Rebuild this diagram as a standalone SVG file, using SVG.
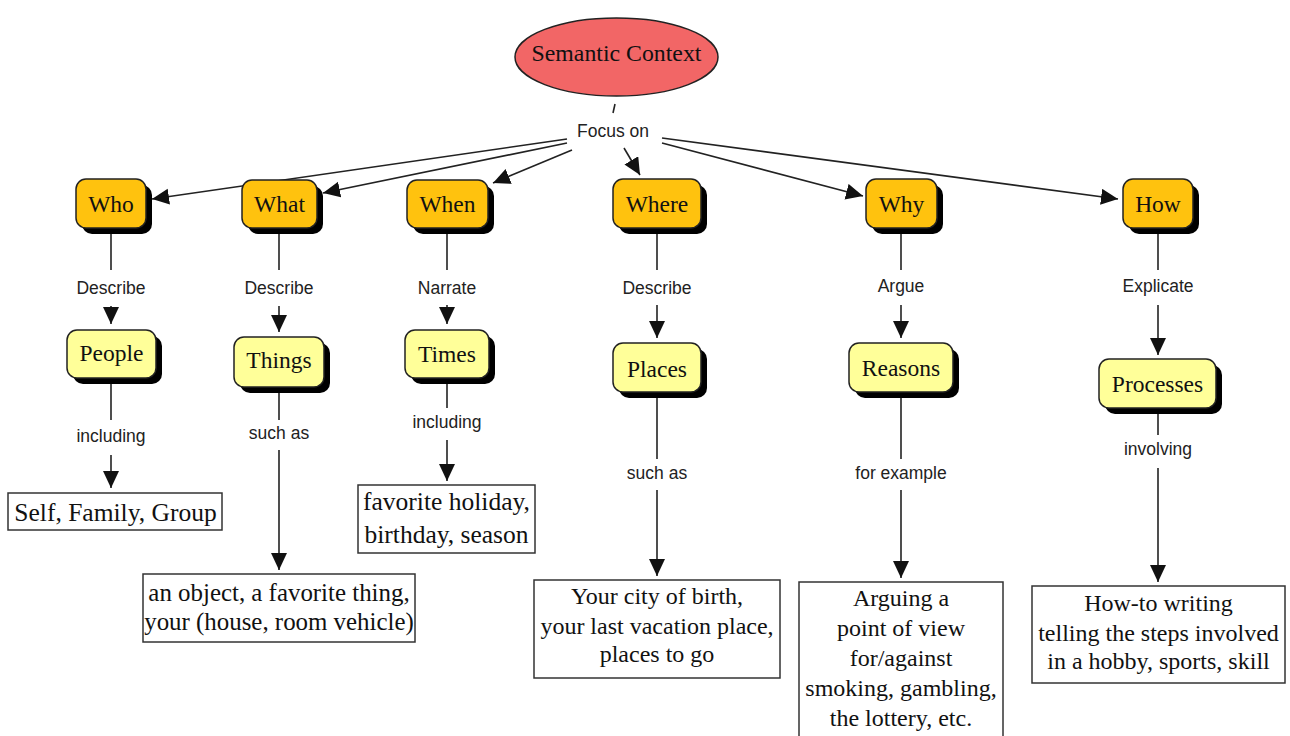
<svg xmlns="http://www.w3.org/2000/svg" width="1290" height="736" viewBox="0 0 1290 736">
  <defs>
    <marker id="arrow" markerUnits="userSpaceOnUse" markerWidth="20" markerHeight="18" refX="17" refY="8" orient="auto">
      <path d="M0,0 L17,8 L0,16 z" fill="#111"/>
    </marker>
    <style>
      .bg { fill: #ffffff; }
      .shadow { fill: #000000; }
      .topic { fill: #FFC20E; stroke: #222; stroke-width: 1.5; }
      .sub { fill: #FFFF99; stroke: #222; stroke-width: 1.5; }
      .leaf { fill: #ffffff; stroke: #333; stroke-width: 1.5; }
      .root { fill: #F26666; stroke: #222; stroke-width: 1.5; }
      .ntext { font-family: "Liberation Serif", "Times New Roman", serif; font-size: 23.5px; fill: #111; text-anchor: middle; }
      .ltext { font-family: "Liberation Serif", "Times New Roman", serif; font-size: 24px; fill: #111; text-anchor: middle; }
      .ltext.big { font-size: 25.5px; }
      .ltext.mid { font-size: 24.9px; }
      .label { font-family: "Liberation Sans", Arial, sans-serif; font-size: 17.5px; fill: #222; text-anchor: middle; }
      .conn line { stroke: #222; stroke-width: 1.6; fill: none; }
      .conn line.arr { marker-end: url(#arrow); }
    </style>
  </defs>

  <rect class="bg" x="0" y="0" width="1290" height="736"/>

  <!-- connectors and linking phrases -->
  <g id="connectors" class="conn">
    <line x1="615" y1="104" x2="613" y2="113"/>
    <text class="label" x="613" y="137">Focus on</text>
    <line class="arr" x1="567" y1="139" x2="152" y2="199"/>
    <line class="arr" x1="567" y1="143" x2="323" y2="193"/>
    <line class="arr" x1="572" y1="150" x2="493" y2="183"/>
    <line class="arr" x1="624" y1="148" x2="640" y2="175"/>
    <line class="arr" x1="662" y1="143" x2="863" y2="196"/>
    <line class="arr" x1="662" y1="138" x2="1118" y2="199"/>

    <!-- Who -> People -> list -->
    <line x1="111" y1="234" x2="111" y2="270"/>
    <text class="label" x="111" y="294">Describe</text>
    <line class="arr" x1="111" y1="306" x2="111" y2="324"/>
    <line x1="111" y1="383" x2="111" y2="420"/>
    <text class="label" x="111" y="442">including</text>
    <line class="arr" x1="111" y1="455" x2="111" y2="488"/>

    <!-- What -> Things -> list -->
    <line x1="279" y1="234" x2="279" y2="270"/>
    <text class="label" x="279" y="294">Describe</text>
    <line class="arr" x1="279" y1="306" x2="279" y2="332"/>
    <line x1="279" y1="392" x2="279" y2="420"/>
    <text class="label" x="279" y="439">such as</text>
    <line class="arr" x1="279" y1="450" x2="279" y2="570"/>

    <!-- When -> Times -> list -->
    <line x1="447" y1="234" x2="447" y2="270"/>
    <text class="label" x="447" y="294">Narrate</text>
    <line class="arr" x1="447" y1="305" x2="447" y2="324"/>
    <line x1="447" y1="383" x2="447" y2="408"/>
    <text class="label" x="447" y="428">including</text>
    <line class="arr" x1="447" y1="440" x2="447" y2="481"/>

    <!-- Where -> Places -> list -->
    <line x1="657" y1="234" x2="657" y2="270"/>
    <text class="label" x="657" y="294">Describe</text>
    <line class="arr" x1="657" y1="305" x2="657" y2="338"/>
    <line x1="657" y1="397" x2="657" y2="459"/>
    <text class="label" x="657" y="479">such as</text>
    <line class="arr" x1="657" y1="490" x2="657" y2="576"/>

    <!-- Why -> Reasons -> list -->
    <line x1="901" y1="234" x2="901" y2="270"/>
    <text class="label" x="901" y="292">Argue</text>
    <line class="arr" x1="901" y1="305" x2="901" y2="338"/>
    <line x1="901" y1="397" x2="901" y2="459"/>
    <text class="label" x="901" y="479">for example</text>
    <line class="arr" x1="901" y1="490" x2="901" y2="578"/>

    <!-- How -> Processes -> list -->
    <line x1="1158" y1="234" x2="1158" y2="270"/>
    <text class="label" x="1158" y="292">Explicate</text>
    <line class="arr" x1="1158" y1="305" x2="1158" y2="355"/>
    <line x1="1158" y1="413" x2="1158" y2="435"/>
    <text class="label" x="1158" y="455">involving</text>
    <line class="arr" x1="1158" y1="468" x2="1158" y2="582"/>
  </g>

  <!-- root concept -->
  <g id="semantic-context">
    <ellipse class="root" cx="616.5" cy="57" rx="101.5" ry="39"/>
    <text class="ntext" x="616.5" y="61" style="font-size:23.8px">Semantic Context</text>
  </g>

  <!-- question nodes -->
  <g id="who">
    <rect class="shadow" x="82" y="185" width="70" height="49" rx="10"/>
    <rect class="topic" x="76" y="179" width="70" height="49" rx="10"/>
    <text class="ntext" x="111" y="212">Who</text>
  </g>
  <g id="what">
    <rect class="shadow" x="248" y="186" width="75" height="48" rx="10"/>
    <rect class="topic" x="242" y="180" width="75" height="48" rx="10"/>
    <text class="ntext" x="279.5" y="212">What</text>
  </g>
  <g id="when">
    <rect class="shadow" x="413" y="186" width="81" height="48" rx="10"/>
    <rect class="topic" x="407" y="180" width="81" height="48" rx="10"/>
    <text class="ntext" x="447.5" y="212">When</text>
  </g>
  <g id="where">
    <rect class="shadow" x="619" y="185" width="88" height="49" rx="10"/>
    <rect class="topic" x="613" y="179" width="88" height="49" rx="10"/>
    <text class="ntext" x="657" y="212">Where</text>
  </g>
  <g id="why">
    <rect class="shadow" x="872" y="185" width="71" height="49" rx="10"/>
    <rect class="topic" x="866" y="179" width="71" height="49" rx="10"/>
    <text class="ntext" x="901.5" y="212">Why</text>
  </g>
  <g id="how">
    <rect class="shadow" x="1129" y="185" width="70" height="49" rx="10"/>
    <rect class="topic" x="1123" y="179" width="70" height="49" rx="10"/>
    <text class="ntext" x="1158" y="212">How</text>
  </g>

  <!-- second-level nodes -->
  <g id="people">
    <rect class="shadow" x="73" y="336" width="89" height="48" rx="10"/>
    <rect class="sub" x="67" y="330" width="89" height="48" rx="10"/>
    <text class="ntext" x="111.5" y="361">People</text>
  </g>
  <g id="things">
    <rect class="shadow" x="240" y="343" width="90" height="50" rx="10"/>
    <rect class="sub" x="234" y="337" width="90" height="50" rx="10"/>
    <text class="ntext" x="279" y="368">Things</text>
  </g>
  <g id="times">
    <rect class="shadow" x="411" y="336" width="84" height="48" rx="10"/>
    <rect class="sub" x="405" y="330" width="84" height="48" rx="10"/>
    <text class="ntext" x="447" y="362">Times</text>
  </g>
  <g id="places">
    <rect class="shadow" x="619" y="349" width="88" height="49" rx="10"/>
    <rect class="sub" x="613" y="343" width="88" height="49" rx="10"/>
    <text class="ntext" x="657" y="377">Places</text>
  </g>
  <g id="reasons">
    <rect class="shadow" x="855" y="349" width="104" height="49" rx="10"/>
    <rect class="sub" x="849" y="343" width="104" height="49" rx="10"/>
    <text class="ntext" x="901" y="376">Reasons</text>
  </g>
  <g id="processes">
    <rect class="shadow" x="1105" y="365" width="117" height="49" rx="10"/>
    <rect class="sub" x="1099" y="359" width="117" height="49" rx="10"/>
    <text class="ntext" x="1157.5" y="392">Processes</text>
  </g>

  <!-- example boxes -->
  <g id="self-family-group">
    <rect class="leaf" x="8" y="493" width="214" height="37"/>
    <text class="ltext big" x="115.5" y="521">Self, Family, Group</text>
  </g>
  <g id="objects">
    <rect class="leaf" x="143" y="574" width="272" height="68"/>
    <text class="ltext mid" x="279" y="601">an object, a favorite thing,</text>
    <text class="ltext mid" x="279" y="630">your (house, room vehicle)</text>
  </g>
  <g id="holidays">
    <rect class="leaf" x="358" y="485" width="177" height="68"/>
    <text class="ltext big" x="446.5" y="510">favorite holiday,</text>
    <text class="ltext big" x="446.5" y="543">birthday, season</text>
  </g>
  <g id="locations">
    <rect class="leaf" x="534" y="580" width="246" height="98"/>
    <text class="ltext" x="657" y="604">Your city of birth,</text>
    <text class="ltext" x="657" y="634">your last vacation place,</text>
    <text class="ltext" x="657" y="662">places to go</text>
  </g>
  <g id="arguments">
    <rect class="leaf" x="799" y="582" width="204" height="162"/>
    <text class="ltext" x="901" y="606">Arguing a</text>
    <text class="ltext" x="901" y="636">point of view</text>
    <text class="ltext" x="901" y="666">for/against</text>
    <text class="ltext" x="901" y="696">smoking, gambling,</text>
    <text class="ltext" x="901" y="726">the lottery, etc.</text>
  </g>
  <g id="how-to">
    <rect class="leaf" x="1032" y="586" width="253" height="97"/>
    <text class="ltext" x="1158.5" y="611">How-to writing</text>
    <text class="ltext" x="1158.5" y="641">telling the steps involved</text>
    <text class="ltext" x="1158.5" y="669">in a hobby, sports, skill</text>
  </g>
</svg>
